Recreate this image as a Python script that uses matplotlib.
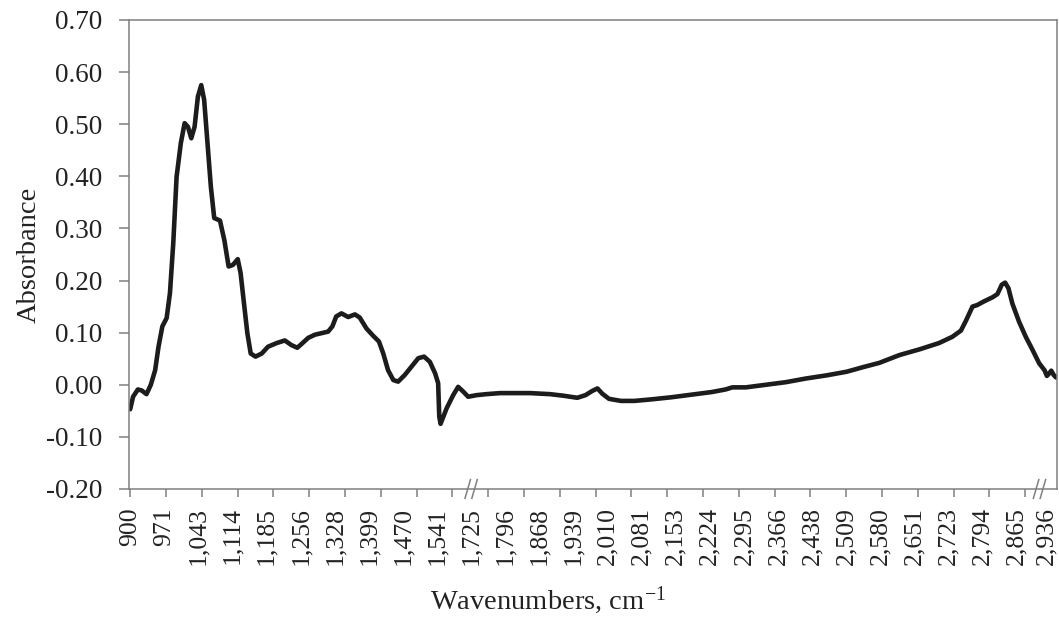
import numpy as np
import matplotlib.pyplot as plt
from matplotlib.transforms import blended_transform_factory, ScaledTranslation

plt.rcParams['font.family'] = ['Liberation Serif', 'DejaVu Serif']
plt.rcParams['mathtext.fontset'] = 'stix'

# tick labels on the category axis (cm-1)
label_wn = [900, 971, 1043, 1114, 1185, 1256, 1328, 1399, 1470, 1541,
            1725, 1796, 1868, 1939, 2010, 2081, 2153, 2224, 2295, 2366,
            2438, 2509, 2580, 2651, 2723, 2794, 2865, 2936]

# spectrum
wavenumber = [900, 906, 916, 924, 934, 943, 952, 959, 967, 976,
              983, 990, 997, 1006, 1014, 1021, 1028, 1035, 1042, 1049,
              1055, 1062, 1069, 1076, 1088, 1097, 1106, 1115, 1125, 1131,
              1138, 1145, 1152, 1162, 1175, 1188, 1206, 1223, 1237, 1249,
              1260, 1272, 1286, 1300, 1314, 1323, 1331, 1342, 1356, 1370,
              1380, 1394, 1408, 1420, 1429, 1439, 1450, 1460, 1474, 1488,
              1502, 1514, 1526, 1537, 1547, 1553, 1560, 1593, 1628, 1655,
              1682, 1709, 1736, 1757, 1785, 1848, 1890, 1918, 1947, 1964,
              1978, 1989, 1999, 2013, 2038, 2066, 2102, 2144, 2186, 2228,
              2257, 2271, 2281, 2299, 2341, 2383, 2425, 2468, 2510, 2545,
              2578, 2620, 2662, 2703, 2731, 2749, 2760, 2773, 2783, 2797,
              2815, 2825, 2834, 2841, 2848, 2856, 2870, 2884, 2898, 2912,
              2923, 2928, 2933, 2937, 2942, 2947]
absorbance = [-0.047, -0.023, -0.009, -0.011, -0.018, 0.000, 0.028, 0.073, 0.112, 0.128,
              0.176, 0.272, 0.399, 0.464, 0.502, 0.495, 0.473, 0.495, 0.553, 0.575,
              0.547, 0.464, 0.380, 0.320, 0.315, 0.278, 0.227, 0.230, 0.241, 0.214,
              0.156, 0.099, 0.060, 0.054, 0.060, 0.073, 0.080, 0.085, 0.076, 0.071,
              0.080, 0.090, 0.096, 0.099, 0.102, 0.112, 0.131, 0.137, 0.130, 0.135,
              0.129, 0.108, 0.094, 0.083, 0.060, 0.028, 0.009, 0.006, 0.019, 0.035,
              0.051, 0.054, 0.044, 0.022, 0.003, -0.061, -0.075, -0.045, -0.020, -0.004,
              -0.013, -0.023, -0.020, -0.018, -0.016, -0.016, -0.018, -0.021, -0.025, -0.020,
              -0.012, -0.007, -0.017, -0.027, -0.031, -0.031, -0.028, -0.024, -0.019, -0.014,
              -0.009, -0.005, -0.005, -0.005, 0.000, 0.005, 0.012, 0.018, 0.025, 0.034,
              0.042, 0.057, 0.068, 0.080, 0.092, 0.104, 0.124, 0.150, 0.153, 0.160,
              0.168, 0.174, 0.192, 0.196, 0.185, 0.156, 0.121, 0.092, 0.067, 0.041,
              0.028, 0.017, 0.022, 0.027, 0.019, 0.014]

yticks = [-0.20, -0.10, 0.00, 0.10, 0.20, 0.30, 0.40, 0.50, 0.60, 0.70]

# category positions (axis is broken, so map wavenumber -> label slot)
idx = np.arange(len(label_wn))
anchor_wn = label_wn + [label_wn[-1] + 71]
anchor_idx = np.arange(len(anchor_wn))
xpos = np.interp(wavenumber, anchor_wn, anchor_idx)

fig = plt.figure(figsize=(10.59, 6.21), dpi=100)
ax = fig.add_axes([0.1218, 0.2126, 0.8762, 0.7552])

ax.plot(xpos, absorbance, color='#1c1c1c', lw=3.3,
        solid_joinstyle='round', solid_capstyle='round')

ax.set_xlim(-0.035, 27.18)
ax.set_ylim(-0.20, 0.70)

txt = '#222222'
spine_c = '#808080'
for s in ax.spines.values():
    s.set_color(spine_c)
    s.set_linewidth(1.1)

ax.set_yticks(yticks)
ax.set_yticklabels([f'{v:.2f}' for v in yticks])
ax.tick_params(axis='y', direction='out', length=7, width=1.1, color=spine_c,
               pad=12, labelsize=19.5, labelcolor=txt)

# tick marks and labels use different spacing in the original
ax.xaxis.remove_overlapping_locs = False
ax.set_xticks(np.arange(26) * 1.05)
ax.set_xticklabels([])
ax.tick_params(axis='x', which='major', direction='out', length=6, width=1.1,
               color=spine_c)
ax.set_xticks(idx, [f'{v:,}' for v in label_wn], minor=True, rotation=90)
ax.tick_params(axis='x', which='minor', length=0, pad=13, labelsize=18.5,
               labelcolor=txt)

# keep the last label inside the figure
fig.canvas.draw()
last = ax.get_xticklabels(minor=True)[-1]
last.set_transform(last.get_transform() +
                   ScaledTranslation(-3 / 72, 0, fig.dpi_scale_trans))

# axis break marks
tr = blended_transform_factory(ax.transData, ax.transAxes)
for xb in [10.0, 26.67]:
    for off in [-0.1, 0.1]:
        ax.plot([xb + off - 0.08, xb + off + 0.08], [-0.02, 0.02],
                color=spine_c, lw=1.1, transform=tr, clip_on=False)

fig.text(0.028, 0.59, 'Absorbance', rotation=90, ha='center', va='center',
         fontsize=20.5, color=txt)
fig.text(0.517, 0.033, 'Wavenumbers, cm$^{\\mathregular{-1}}$', ha='center',
         va='center', fontsize=20.5, color=txt)

fig.savefig('out.png', dpi=100)
